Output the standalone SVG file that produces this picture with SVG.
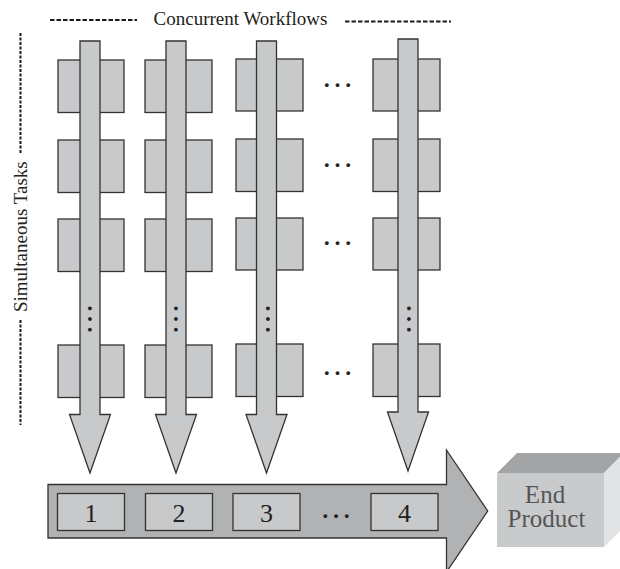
<svg xmlns="http://www.w3.org/2000/svg" width="620" height="569" viewBox="0 0 620 569">
<style>
.lbl{font-family:"Liberation Serif","Times New Roman",serif;fill:#222}
.task{fill:#c8c9cb;stroke:#333;stroke-width:1.3}
.shaft{fill:#c8c9cb;stroke:#333;stroke-width:1.3;stroke-linejoin:miter}
.dash{stroke:#1a1a1a;stroke-width:2;fill:none}
.ell{font-family:"Liberation Serif","Times New Roman",serif;font-size:32px;fill:#222;text-anchor:middle}
.num{font-family:"Liberation Serif","Times New Roman",serif;font-size:26px;fill:#222;text-anchor:middle}
</style>
<rect width="620" height="569" fill="#fff"/>

<g id="label-workflows">
<line class="dash" x1="50" y1="20" x2="137" y2="20" stroke-dasharray="4.5,2"/>
<text class="lbl" x="240.5" y="25" font-size="19" text-anchor="middle">Concurrent Workflows</text>
<line class="dash" x1="345" y1="21.5" x2="451" y2="21.5" stroke-dasharray="4.5,2"/>
</g>

<g id="label-tasks">
<line class="dash" x1="20.5" y1="33" x2="20.5" y2="153" stroke-dasharray="3,1.5"/>
<text class="lbl" transform="translate(27,236.7) rotate(-90)" font-size="19" text-anchor="middle">Simultaneous Tasks</text>
<line class="dash" x1="20.5" y1="320" x2="20.5" y2="425" stroke-dasharray="3,1.5"/>
</g>

<g id="tasks-col1">
<rect class="task" x="58" y="60" width="66" height="52.5"/>
<rect class="task" x="58" y="140" width="66" height="52.5"/>
<rect class="task" x="58" y="219" width="66" height="52.5"/>
<rect class="task" x="58" y="345" width="66" height="52.5"/>
</g>
<g id="tasks-col2">
<rect class="task" x="145" y="60" width="67" height="52.5"/>
<rect class="task" x="145" y="140" width="67" height="52.5"/>
<rect class="task" x="145" y="219" width="67" height="52.5"/>
<rect class="task" x="145" y="345" width="67" height="52.5"/>
</g>
<g id="tasks-col3">
<rect class="task" x="236" y="59" width="67" height="52"/>
<rect class="task" x="236" y="139" width="67" height="52.5"/>
<rect class="task" x="236" y="218" width="67" height="52"/>
<rect class="task" x="236" y="344" width="67" height="52.5"/>
</g>
<g id="tasks-col4">
<rect class="task" x="373" y="59" width="67" height="52"/>
<rect class="task" x="373" y="139" width="67" height="52.5"/>
<rect class="task" x="373" y="218" width="67" height="52"/>
<rect class="task" x="373" y="344" width="67" height="52.5"/>
</g>

<g id="more-columns">
<text class="ell" x="337.5" y="86.7">…</text>
<text class="ell" x="337.5" y="166.7">…</text>
<text class="ell" x="337.5" y="245">…</text>
<text class="ell" x="337.5" y="375">…</text>
</g>

<g id="connectors">
<path class="shaft" d="M80,41 H100 V414.5 H110.5 L90,473 L69.5,414.5 H80 Z"/>
<path class="shaft" d="M166,41 H186 V414.5 H196.5 L176,473 L155.5,414.5 H166 Z"/>
<path class="shaft" d="M256.5,41 H276.5 V414.5 H287 L266.5,473 L246,414.5 H256.5 Z"/>
<path class="shaft" d="M398,39 H418 V412 H428.5 L408,471 L387.5,412 H398 Z"/>
<text class="ell" transform="translate(87.6,319) rotate(90)">…</text>
<text class="ell" transform="translate(174,319) rotate(90)">…</text>
<text class="ell" transform="translate(266,319) rotate(90)">…</text>
<text class="ell" transform="translate(407.3,319) rotate(90)">…</text>
</g>

<g id="integration">
<path d="M48,484.5 H446.5 V450 L487.7,511 L446.5,572 V538 H48 Z" fill="#b1b2b4" stroke="#333" stroke-width="1.3"/>
<rect class="task" x="57.5" y="493.5" width="67" height="37"/>
<text class="num" x="91" y="522">1</text>
<rect class="task" x="145.5" y="493.5" width="67" height="37"/>
<text class="num" x="179" y="522">2</text>
<rect class="task" x="233" y="493.5" width="67" height="37"/>
<text class="num" x="266.5" y="522">3</text>
<text class="ell" x="336" y="517.7">…</text>
<rect class="task" x="371" y="493.5" width="67" height="37"/>
<text class="num" x="404.5" y="522">4</text>
</g>

<g id="end-product">
<polygon points="497,473 604,473 624,453 517,453" fill="#a3a4a6"/>
<polygon points="604,473 624,453 624,527 604,547" fill="#e2e3e4"/>
<rect x="497" y="473" width="107" height="74" fill="#c9cacb"/>
<text class="lbl" x="545" y="502.5" font-size="25" text-anchor="middle" style="fill:#555">End</text>
<text class="lbl" x="546.5" y="527" font-size="25" text-anchor="middle" style="fill:#555">Product</text>
</g>
</svg>
